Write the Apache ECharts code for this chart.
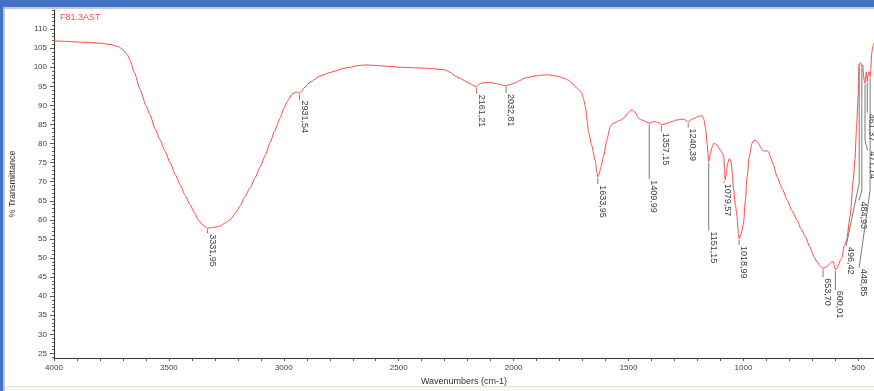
<!DOCTYPE html>
<html>
<head>
<meta charset="utf-8">
<title>F81.3AST</title>
<script src="https://cdn.jsdelivr.net/npm/echarts@6/dist/echarts.min.js"></script>
<style>
  html, body { margin: 0; padding: 0; background: #ffffff; }
  #chart { width: 874px; height: 391px; }
</style>
</head>
<body>
<div id="chart"></div>
<script>
// FT-IR spectrum of sample F81.3AST: wavenumber (cm-1) vs. % transmittance
const wavenumbers = [
  4000, 3950, 3900, 3850, 3800, 3750, 3720, 3700, 3680, 3669, 3650, 3626, 3600, 3582, 3560,
  3539, 3517, 3495, 3473, 3451, 3430, 3408, 3390, 3373, 3355, 3340, 3331.95, 3310, 3290, 3277,
  3255, 3234, 3210, 3190, 3170, 3147, 3125, 3103, 3080, 3060, 3040, 3016, 3000, 2981, 2964,
  2946, 2940, 2931.54, 2924, 2912, 2885, 2842, 2800, 2777, 2740, 2711, 2680, 2646, 2610, 2581,
  2540, 2494, 2450, 2407, 2370, 2333, 2298, 2275, 2254, 2230, 2211, 2190, 2175, 2161.21, 2150,
  2137, 2102, 2067, 2045, 2032.81, 2020, 1993, 1970, 1950, 1906, 1880, 1854, 1827, 1800, 1775,
  1762, 1745, 1732, 1715, 1703, 1695, 1688, 1680, 1674, 1660, 1645, 1638, 1633.95, 1628, 1620,
  1609, 1594, 1580, 1570, 1558, 1540, 1522, 1505, 1495, 1485, 1471, 1456, 1445, 1434, 1420,
  1409.99, 1395, 1379, 1368, 1357.15, 1345, 1333, 1310, 1289, 1260, 1250, 1240.39, 1230, 1217, 1200,
  1185, 1178, 1173, 1165, 1158, 1151.15, 1145, 1137, 1130, 1122, 1115, 1101, 1090, 1086, 1082,
  1079.57, 1075, 1069, 1061, 1054, 1048, 1043, 1035, 1028, 1022, 1018.99, 1010, 1005, 999, 992,
  984, 975, 963, 955, 949, 942, 934, 925, 919, 908, 897, 890, 883, 870, 854,
  830, 810, 790, 767, 750, 731, 712, 694, 680, 665, 653.70, 640, 629, 618, 610,
  605, 600.01, 593, 585, 578, 572, 562, 551, 536, 522, 515, 508, 501, 497, 496.42,
  492, 488, 484.93, 481, 477, 474, 471.14, 468, 465, 461.37, 457, 454, 451, 448.85, 446,
  442, 437, 433
];
const transmittance = [
  106.9, 106.8, 106.6, 106.5, 106.3, 105.9, 105.4, 104.6, 103.2, 101.8, 98.6, 94.3, 90.0, 87.5, 83.8,
  81.0, 78.0, 75.0, 72.0, 69.2, 66.5, 64.0, 62.0, 60.0, 58.8, 58.1, 57.8, 58.0, 58.2, 58.4,
  59.2, 60.0, 61.8, 63.7, 66.0, 68.4, 71.0, 73.9, 77.0, 80.2, 83.3, 86.7, 89.2, 91.4, 93.0,
  93.5, 93.4, 93.1, 93.6, 94.6, 96.1, 97.7, 98.6, 99.0, 99.7, 100.0, 100.4, 100.6, 100.5, 100.4,
  100.2, 100.0, 99.9, 99.8, 99.7, 99.5, 99.3, 98.6, 97.7, 97.0, 96.4, 95.7, 95.2, 94.9, 95.6,
  95.9, 96.0, 95.6, 95.3, 95.1, 95.4, 95.9, 96.6, 97.2, 97.7, 97.9, 98.0, 97.8, 97.5, 97.0,
  96.6, 95.8, 94.9, 94.0, 93.2, 91.5, 89.7, 86.0, 83.0, 79.5, 75.5, 72.5, 71.2, 72.0, 73.8,
  76.6, 81.0, 84.4, 85.2, 85.5, 86.0, 86.6, 87.8, 88.5, 88.8, 88.2, 86.6, 86.2, 86.0, 85.6,
  85.3, 85.7, 85.7, 85.4, 84.9, 85.1, 85.3, 85.8, 86.2, 86.4, 86.1, 85.5, 86.2, 86.6, 87.0,
  87.3, 87.2, 86.5, 84.0, 80.0, 75.3, 77.0, 79.0, 80.0, 79.9, 79.6, 78.3, 77.3, 76.6, 73.0,
  70.5, 72.0, 74.8, 76.1, 75.3, 72.0, 67.9, 64.0, 60.9, 56.5, 55.0, 56.3, 57.5, 59.5, 65.0,
  71.3, 76.5, 80.0, 80.8, 80.9, 80.6, 80.0, 79.0, 78.3, 78.0, 78.1, 77.8, 76.5, 74.5, 71.3,
  68.0, 65.2, 62.5, 60.0, 57.7, 55.6, 53.0, 50.4, 49.0, 47.8, 47.3, 47.6, 48.2, 48.9, 49.1,
  48.2, 46.9, 47.3, 48.4, 49.5, 50.0, 53.0, 54.8, 60.9, 70.5, 75.7, 84.0, 92.3, 100.8, 100.6,
  101.2, 100.9, 100.2, 100.6, 97.5, 96.3, 95.8, 97.8, 98.8, 96.2, 98.0, 98.8, 98.2, 97.5, 99.5,
  103.6, 105.5, 106.3
];

// Picked peaks and their printed labels
const peakWavenumbers = [
  3331.95, 2931.54, 2161.21, 2032.81, 1633.95, 1409.99, 1357.15, 1240.39, 1151.15,
  1079.57, 1018.99, 653.70, 600.01, 496.42, 484.93, 471.14, 461.37, 448.85
];
const peakLabels = [
  '3331,95', '2931,54', '2161,21', '2032,81', '1633,95', '1409,99', '1357,15', '1240,39', '1151,15',
  '1079,57', '1018,99', '653,70', '600,01', '496,42', '484,93', '471,14', '461,37', '448,85'
];

// Axis tick labels
const xTickLabels = [4000, 3500, 3000, 2500, 2000, 1500, 1000, 500];
const yTickLabels = [110, 105, 100, 95, 90, 85, 80, 75, 70, 65, 60, 55, 50, 45, 40, 35, 30, 25];

// Leader-line layout for each peak label, in pixels below/beside the peak:
// dy = where the label text begins, dx = horizontal shift of the leader end,
// bend = length of the vertical part before a slanted leader (0 = straight).
const leaderLayout = [
  { dy: 6, dx: 0, bend: 0 },
  { dy: 7, dx: 0, bend: 0 },
  { dy: 8, dx: 0, bend: 0 },
  { dy: 8, dx: 0, bend: 0 },
  { dy: 8, dx: 0, bend: 0 },
  { dy: 57, dx: 0, bend: 0 },
  { dy: 8, dx: 0, bend: 0 },
  { dy: 6, dx: 0, bend: 0 },
  { dy: 70, dx: 0, bend: 0 },
  { dy: 4, dx: -2, bend: 0 },
  { dy: 7, dx: 0, bend: 0 },
  { dy: 10, dx: 0, bend: 0 },
  { dy: 21, dx: 0, bend: 0 },
  { dy: 182, dx: -13, bend: 118 },
  { dy: 135, dx: -3, bend: 124 },
  { dy: 68, dx: 2.5, bend: 57 },
  { dy: 32, dx: 0, bend: 0 },
  { dy: 192, dx: -11, bend: 113 }
];

const spectrum = wavenumbers.map((w, i) => [w, transmittance[i]]);
const peakPoints = peakWavenumbers.map((w, i) => [w, transmittance[wavenumbers.indexOf(w)], i]);

const xMinorTicks = [];
for (let v = 500; v <= 4000; v += 100) xMinorTicks.push(v);
const yMinorTicks = [];
for (let v = 24; v <= 115; v += 1) yMinorTicks.push(v);

const fontFamily = '"Liberation Sans", Arial, sans-serif';
const labelFont = '9px ' + fontFamily;
const tickColor = '#3c3c58';

const chart = echarts.init(document.getElementById('chart'), null, { renderer: 'canvas' });

chart.setOption({
  animation: false,
  backgroundColor: '#ffffff',
  title: {
    text: 'F81.3AST',
    left: 55, top: 8,
    textStyle: { color: '#ff4a4a', fontSize: 9, fontWeight: 'normal', fontFamily: fontFamily }
  },
  graphic: [
    // window frame strips
    { type: 'rect', shape: { x: 0, y: 0, width: 874, height: 7 }, style: { fill: '#4472c4' }, z: 100 },
    { type: 'rect', shape: { x: 0, y: 7, width: 874, height: 2 }, style: { fill: '#c8c8c8' }, z: 100 },
    { type: 'rect', shape: { x: 0, y: 0, width: 3.5, height: 391 }, style: { fill: '#4472c4' }, z: 100 },
    { type: 'rect', shape: { x: 3.5, y: 7, width: 1.5, height: 384 }, style: { fill: '#c8c8c8' }, z: 100 },
    { type: 'rect', shape: { x: 5, y: 386, width: 869, height: 5 }, style: { fill: '#f5f7f2' }, z: 100 },
    { type: 'rect', shape: { x: 5, y: 386, width: 869, height: 1 }, style: { fill: '#e2e4e0' }, z: 100 }
  ],
  grid: { left: 54, right: 0, top: 10, bottom: 33, containLabel: false, outerBoundsMode: 'none' },
  xAxis: [{
    type: 'value',
    inverse: true,
    min: 432, max: 4000,
    name: 'Wavenumbers (cm-1)',
    nameLocation: 'middle',
    nameGap: 18,
    nameTextStyle: { color: '#333333', fontSize: 9, fontFamily: fontFamily },
    axisLine: { show: true, lineStyle: { color: '#333333', width: 1 } },
    axisTick: { show: true, length: 3, customValues: xMinorTicks, lineStyle: { color: '#555555' } },
    axisLabel: {
      customValues: xTickLabels, margin: 6, color: tickColor, fontSize: 8,
      fontFamily: fontFamily, formatter: v => String(v)
    },
    splitLine: { show: false }
  }],
  yAxis: [{
    type: 'value',
    min: 23.8, max: 115,
    name: '% Transmittance',
    nameLocation: 'middle',
    nameGap: 37,
    nameTextStyle: { color: '#333333', fontSize: 9, fontFamily: fontFamily },
    axisLine: { show: true, lineStyle: { color: '#333333', width: 1 } },
    axisTick: { show: true, length: 4, customValues: yTickLabels, lineStyle: { color: '#555555' } },
    axisLabel: {
      customValues: yTickLabels, margin: 7, color: tickColor, fontSize: 8,
      fontFamily: fontFamily, formatter: v => String(v)
    },
    splitLine: { show: false }
  }, {
    // fine ticks along the transmittance axis
    type: 'value',
    position: 'left',
    offset: 0,
    min: 23.8, max: 115,
    axisLine: { show: false },
    axisTick: { show: true, length: 2, customValues: yMinorTicks, lineStyle: { color: '#666666' } },
    axisLabel: { show: false },
    splitLine: { show: false }
  }],
  series: [{
    type: 'line',
    name: 'F81.3AST',
    data: spectrum,
    showSymbol: false,
    smooth: 0.2,
    smoothMonotone: 'x',
    lineStyle: { color: '#ff4545', width: 1 },
    z: 3
  }, {
    type: 'custom',
    name: 'peaks',
    data: peakPoints,
    encode: { x: 0, y: 1 },
    z: 4,
    clip: false,
    renderItem: function (params, api) {
      const idx = api.value(2);
      const p = api.coord([api.value(0), api.value(1)]);
      const lay = leaderLayout[idx];
      const pts = [[p[0], p[1] + 1]];
      if (lay.bend) pts.push([p[0], p[1] + lay.bend]);
      const endX = p[0] + lay.dx;
      pts.push([endX, p[1] + lay.dy - 1]);
      return {
        type: 'group',
        children: [{
          type: 'polyline',
          shape: { points: pts },
          style: { stroke: '#7a7a7a', lineWidth: 1, fill: null }
        }, {
          type: 'text',
          x: endX + 4.5,
          y: p[1] + lay.dy,
          rotation: -Math.PI / 2,
          style: {
            text: peakLabels[idx],
            fill: '#3a3a48',
            font: labelFont,
            align: 'left',
            verticalAlign: 'middle'
          }
        }]
      };
    }
  }]
});
</script>
</body>
</html>
